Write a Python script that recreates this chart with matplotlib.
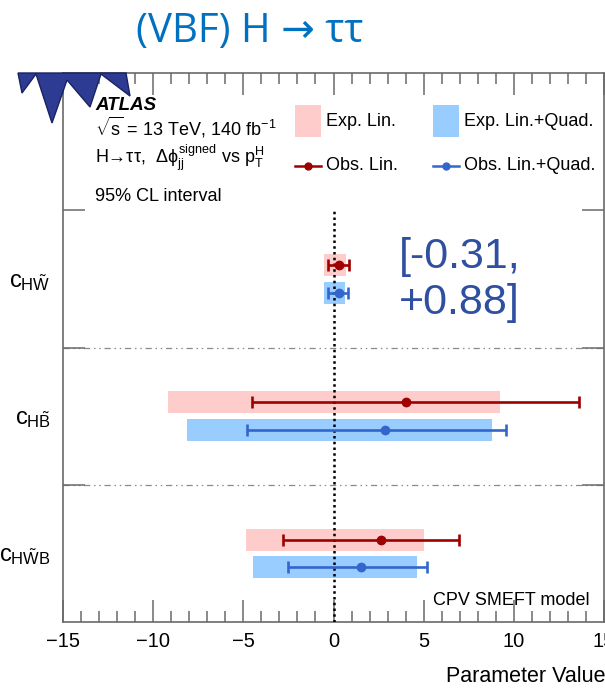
import matplotlib
matplotlib.use("Agg")
import matplotlib.pyplot as plt
from matplotlib.patches import Polygon, Rectangle
from matplotlib.lines import Line2D
from matplotlib.ticker import MultipleLocator, FixedLocator, NullFormatter

plt.rcParams['font.family'] = ['Liberation Sans', 'DejaVu Sans']
plt.rcParams['mathtext.fontset'] = 'custom'
plt.rcParams['mathtext.rm'] = 'Liberation Sans'
plt.rcParams['mathtext.it'] = 'Liberation Sans'
plt.rcParams['mathtext.bf'] = 'Liberation Sans:bold'
plt.rcParams['axes.unicode_minus'] = True

# ---------------- data ----------------
params = [r'$c_{H\tilde{W}}$', r'$c_{H\tilde{B}}$', r'$c_{H\tilde{W}B}$']

exp_lin_lo = [-0.55, -9.15, -4.87]
exp_lin_hi = [0.68, 9.24, 5.00]
exp_lq_lo = [-0.55, -8.15, -4.48]
exp_lq_hi = [0.63, 8.78, 4.63]

obs_lin_val = [0.33, 4.04, 2.62]
obs_lin_lo = [-0.31, -4.54, -2.82]
obs_lin_hi = [0.88, 13.60, 6.96]

obs_lq_val = [0.32, 2.88, 1.55]
obs_lq_lo = [-0.32, -4.80, -2.55]
obs_lq_hi = [0.82, 9.56, 5.18]

legend_labels = ['Exp. Lin.', 'Exp. Lin.+Quad.', 'Obs. Lin.', 'Obs. Lin.+Quad.']
xticks_major = [-15, -10, -5, 0, 5, 10, 15]

# ---------------- style ----------------
PINK = '#FFCCCC'
LBLUE = '#99CCFF'
RED = '#9E0000'
BLUE = '#3366CC'
SPINE = '#6A6A6A'

W, H = 605, 688
def fx(x):
    return x / W
def fy(y):
    return 1 - y / H

fig = plt.figure(figsize=(W / 100, H / 100), dpi=100)
ax = fig.add_axes([fx(63), fy(622), (604 - 63) / W, (622 - 73) / H])

n = len(params)
yc = [n - 0.5 - i for i in range(n)]
off = 0.1
bh = 0.16

y_red = [y + off for y in yc]
y_blue = [y - off for y in yc]

ax.barh(y_red, [h - l for l, h in zip(exp_lin_lo, exp_lin_hi)], left=exp_lin_lo,
        height=bh, color=PINK, edgecolor='none', zorder=2)
ax.barh(y_blue, [h - l for l, h in zip(exp_lq_lo, exp_lq_hi)], left=exp_lq_lo,
        height=bh, color=LBLUE, edgecolor='none', zorder=2)

ax.vlines(0, 0, 3, colors='black', linestyles=(0, (1, 1.3)), lw=1.8, zorder=3)

ax.errorbar(obs_lin_val, y_red,
            xerr=[[v - l for v, l in zip(obs_lin_val, obs_lin_lo)],
                  [h - v for v, h in zip(obs_lin_val, obs_lin_hi)]],
            fmt='o', color=RED, ms=6, lw=1.9, capsize=4.5, capthick=1.9, zorder=4)
ax.errorbar(obs_lq_val, y_blue,
            xerr=[[v - l for v, l in zip(obs_lq_val, obs_lq_lo)],
                  [h - v for v, h in zip(obs_lq_val, obs_lq_hi)]],
            fmt='o', color=BLUE, ms=6, lw=1.9, capsize=4.5, capthick=1.9, zorder=4)

ax.hlines([1, 2], -15, 15, colors='#8A8A8A', linestyles=(0, (5, 3, 1.2, 3, 1.2, 3)), lw=0.9, zorder=1)

ax.set_xlim(-15, 15)
ax.set_ylim(0, 4)

ax.xaxis.set_major_locator(FixedLocator(xticks_major))
ax.xaxis.set_minor_locator(MultipleLocator(1))
ax.tick_params(axis='x', which='major', direction='in', length=16, width=1.1,
               color=SPINE, top=True, labelsize=14.5, pad=7)
ax.tick_params(axis='x', which='minor', direction='in', length=8, width=1.1,
               color=SPINE, top=True)

ax.yaxis.set_major_locator(FixedLocator([1, 2, 3]))
ax.yaxis.set_major_formatter(NullFormatter())
ax.yaxis.set_minor_locator(FixedLocator(yc))
ax.set_yticklabels(params, minor=True)
ax.tick_params(axis='y', which='major', direction='in', length=16, width=1.1,
               color=SPINE, right=True)
ax.tick_params(axis='y', which='minor', length=0, labelsize=17, pad=9)

for s in ax.spines.values():
    s.set_color(SPINE)
    s.set_linewidth(1.2)

# legend (drawn by hand to match the ROOT layout)
leg_cols = [295, 433]
leg_rows = [121, 166]
for j, (lab, col) in enumerate(zip(legend_labels[:2], [PINK, LBLUE])):
    x0 = leg_cols[j]
    fig.add_artist(Rectangle((fx(x0), fy(leg_rows[0] + 16)), 26 / W, 32 / H,
                             transform=fig.transFigure, facecolor=col, edgecolor='none'))
    fig.text(fx(x0 + 31), fy(leg_rows[0]), lab, fontsize=13, va='center', ha='left')
for j, (lab, col) in enumerate(zip(legend_labels[2:], [RED, BLUE])):
    x0 = leg_cols[j]
    fig.add_artist(Line2D([fx(x0), fx(x0 + 26)], [fy(leg_rows[1])] * 2, color=col, lw=1.8,
                          transform=fig.transFigure))
    fig.add_artist(Line2D([fx(x0 + 13)], [fy(leg_rows[1])], color=col, marker='o', ms=5,
                          transform=fig.transFigure))
    fig.text(fx(x0 + 31), fy(leg_rows[1]), lab, fontsize=13, va='center', ha='left')

# ATLAS labels
fig.text(fx(95), fy(110), 'ATLAS', fontsize=13.5, fontweight='bold', style='italic',
         va='baseline', ha='left', color='black')
fig.text(fx(95), fy(136), r'$\sqrt{s}$ = 13 TeV, 140 fb$^{-1}$', fontsize=13,
         va='baseline', ha='left')
fig.text(fx(95), fy(163), 'H\u2192\u03c4\u03c4,  ' + r'$\Delta\phi_{jj}^{signed}$ vs p$_{T}^{H}$',
         fontsize=13, va='baseline', ha='left')
fig.text(fx(95), fy(201), '95% CL interval', fontsize=13, va='baseline', ha='left')

fig.text(fx(590), fy(605), 'CPV SMEFT model', fontsize=13, va='baseline', ha='right')
fig.text(fx(605), fy(677), 'Parameter Value', fontsize=15.5, va='center', ha='right')

# slide annotations
fig.text(fx(250), fy(32), '(VBF) H \u2192 \u03c4\u03c4', fontsize=29, color='#0070C0',
         ha='center', va='center', family=['Open Sans', 'DejaVu Sans'])
fig.text(fx(399), fy(280), '[-0.31,\n+0.88]', fontsize=31, color='#2F4FA0',
         ha='left', va='center', linespacing=1.2)

# decorative star logo
pts = [(18, 73), (22, 93), (36, 74), (52, 123), (67, 80), (90, 107),
       (101, 74), (130, 96), (126, 73)]
star = Polygon([(fx(x), fy(y)) for x, y in pts], closed=True,
               facecolor='#2E3B92', edgecolor='#1A2260', lw=1.0,
               transform=fig.transFigure, zorder=10)
fig.add_artist(star)

fig.savefig('out.png', dpi=100)
